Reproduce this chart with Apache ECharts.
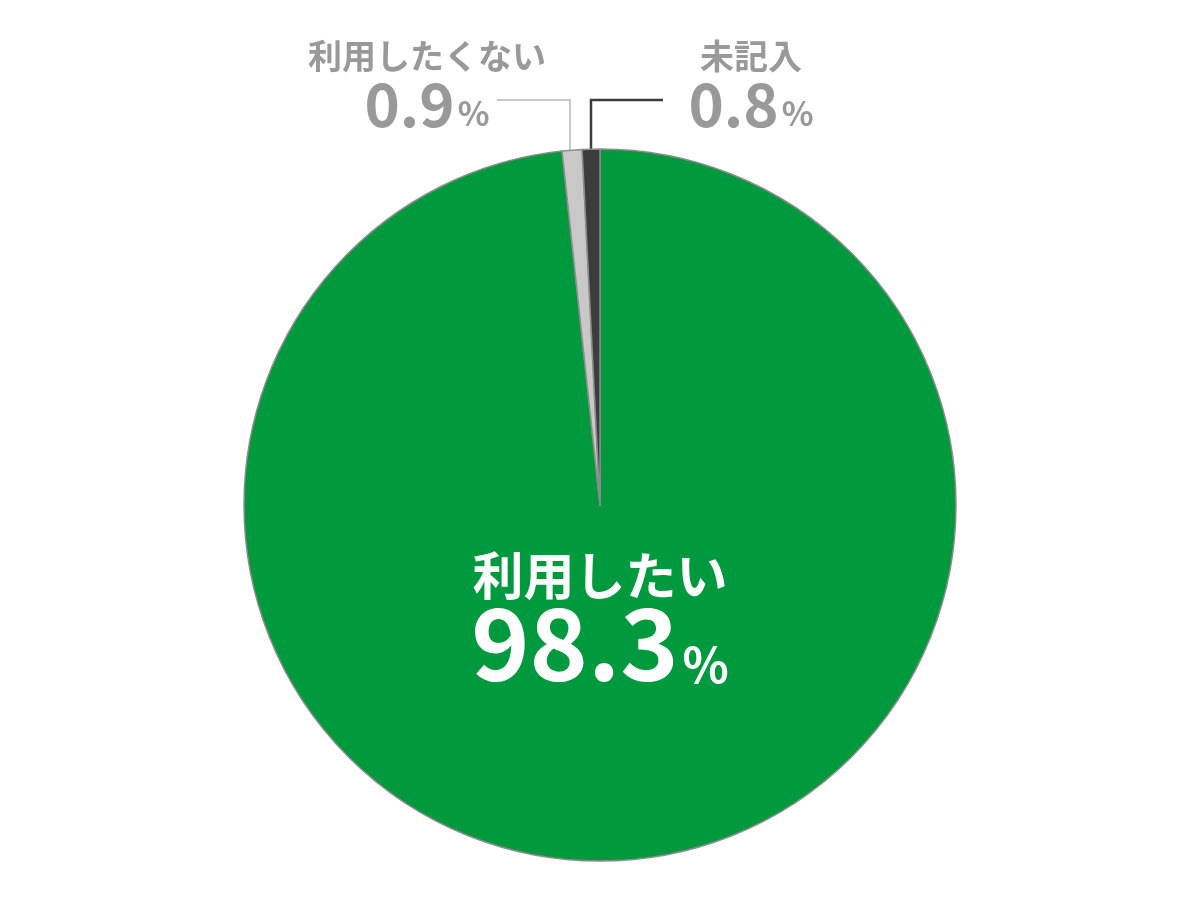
<!DOCTYPE html>
<html><head><meta charset="utf-8">
<script src="https://cdn.jsdelivr.net/npm/echarts@6/dist/echarts.min.js"></script>
<style>html,body{margin:0;padding:0;background:#fff}#c{width:1200px;height:900px}</style>
</head><body><div id="c"></div>
<script>
const categories = ['利用したい', '利用したくない', '未記入'];
const values = [98.3, 0.9, 0.8];
const colors = ['#00993e', '#c8c8c8', '#3c3c3c'];
const lineColors = [null, '#c8c8c8', '#3c3c3c'];

const FONT = '"Noto Sans CJK JP", "Noto Sans", sans-serif';
const CX = 600, CY = 505, R = 356;
const total = values.reduce((a, b) => a + b, 0);

function midAngle(i) {
  let acc = 0;
  for (let k = 0; k < i; k++) acc += values[k];
  return ((acc + values[i] / 2) / total) * Math.PI * 2;
}

const labelPos = {
  0: { x: 600, y: 616 },
  1: { x: 427, y: 84 },
  2: { x: 751, y: 84 }
};

const chart = echarts.init(document.getElementById('c'));
chart.setOption({
  animation: false,
  series: [{
    type: 'pie',
    center: [CX, CY],
    radius: [0, R],
    startAngle: 90,
    clockwise: true,
    avoidLabelOverlap: false,
    itemStyle: { borderColor: '#8c8c8c', borderWidth: 1.5 },
    emphasis: { disabled: true },
    data: categories.map((name, i) => ({
      name,
      value: values[i],
      itemStyle: { color: colors[i] },
      label: i === 0 ? {
        show: true,
        position: 'inside',
        formatter: p => '{n|' + p.name + '}\n{v|' + p.value.toFixed(1) + '}{p|%}',
        rich: {
          n: { fontFamily: FONT, fontWeight: 'bold', fontSize: 51, color: '#fff', lineHeight: 74, align: 'center' },
          v: { fontFamily: FONT, fontWeight: 'bold', fontSize: 99, color: '#fff', lineHeight: 80, verticalAlign: 'bottom' },
          p: { fontFamily: FONT, fontWeight: 'bold', fontSize: 48, color: '#fff', verticalAlign: 'bottom', padding: [0, 0, 4, 4] }
        }
      } : {
        show: true,
        position: 'outside',
        formatter: p => '{n|' + p.name + '}\n{v|' + p.value.toFixed(1) + '}{p|%}',
        rich: {
          n: { fontFamily: FONT, fontWeight: 'bold', fontSize: 34, color: '#999999', lineHeight: 44, align: 'center' },
          v: { fontFamily: FONT, fontWeight: 'bold', fontSize: 60, color: '#999999', lineHeight: 56, verticalAlign: 'bottom' },
          p: { fontFamily: FONT, fontWeight: 'bold', fontSize: 33, color: '#999999', verticalAlign: 'bottom', padding: [0, 0, 4, 3] }
        }
      },
      labelLine: i === 0 ? { show: false } : {
        show: true,
        smooth: false,
        lineStyle: { color: lineColors[i], width: i === 1 ? 2 : 2.5 }
      }
    })),
    labelLayout: function (params) {
      const i = params.dataIndex;
      const pos = labelPos[i];
      const out = { x: pos.x, y: pos.y, align: 'center', verticalAlign: 'middle', hideOverlap: false };
      if (i > 0) {
        const a = midAngle(i);
        const px = CX + R * Math.sin(a);
        const py = CY - R * Math.cos(a);
        const lx = Math.round(px) - (i === 1 ? 2 : 0);
        const endX = i === 1 ? 497 : 663;
        out.labelLinePoints = [[lx, py + 1], [lx, 100], [endX, 100]];
      }
      return out;
    }
  }]
});
</script></body></html>
